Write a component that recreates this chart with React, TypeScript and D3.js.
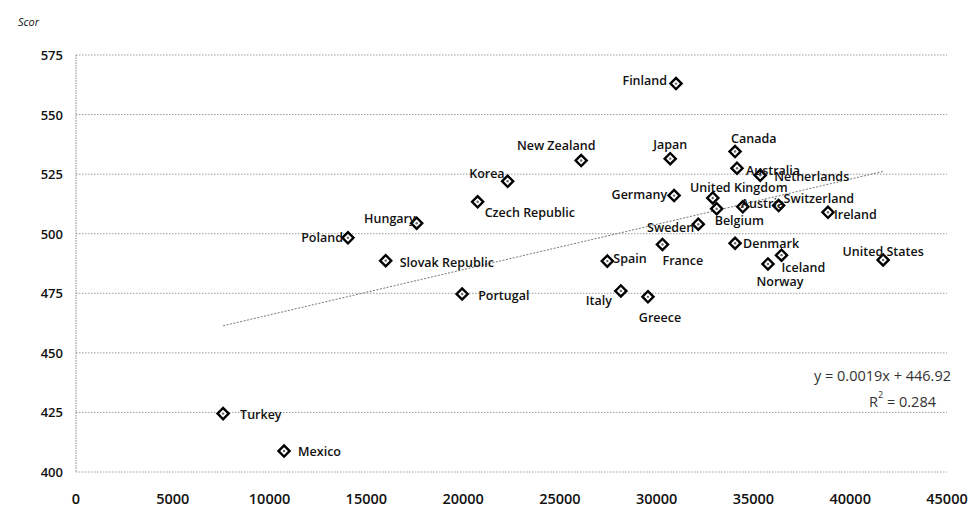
import React from "react";
import * as d3 from "d3";

const countries = ["Finland","Japan","Canada","Australia","Netherlands","Germany","United Kingdom","Belgium","Austria","Switzerland","Ireland","Sweden","Denmark","France","Spain","Iceland","Norway","United States","Italy","Greece","New Zealand","Korea","Czech Republic","Hungary","Poland","Slovak Republic","Portugal","Turkey","Mexico"];
const gdp = [31000,30700,34050,34150,35350,30900,32900,33100,34450,36300,38850,32150,34050,30300,27450,36450,35750,41700,28150,29550,26100,22300,20750,17600,14050,16000,19950,7600,10750];
const scores = [563,531.5,534.5,527.5,524.5,516,515,510.5,511.3,511.8,509,504,496,495.5,488.5,491,487.3,489,476,473.5,530.7,522,513.4,504.4,498.3,488.7,474.7,424.5,408.8];

const xTicks = [0,5000,10000,15000,20000,25000,30000,35000,40000,45000];
const yTicks = [400,425,450,475,500,525,550,575];
const slope = 0.0019;
const intercept = 446.92;
const equationText = "y = 0.0019x + 446.92";
const r2Value = "0.284";
const yAxisTitle = "Scor";

// label placement: [dx, dy, anchor]
const labelPos: Record<string, [number, number, string]> = {
  "Finland": [-9, -3, "end"],
  "Japan": [0, -14, "middle"],
  "Canada": [-4, -13, "start"],
  "Australia": [9, 2, "start"],
  "Netherlands": [14, 1, "start"],
  "Germany": [-7, -1, "end"],
  "United Kingdom": [26, -10, "middle"],
  "Belgium": [-2, 12, "start"],
  "Austria": [-2, -3, "start"],
  "Switzerland": [5, -7, "start"],
  "Ireland": [6, 2, "start"],
  "Sweden": [-4, 3, "end"],
  "Denmark": [8, 0, "start"],
  "France": [0, 16, "start"],
  "Spain": [6, -3, "start"],
  "Iceland": [0, 12, "start"],
  "Norway": [12, 18, "middle"],
  "United States": [0, -8, "middle"],
  "Italy": [-9, 10, "end"],
  "Greece": [12, 21, "middle"],
  "New Zealand": [-25, -15, "middle"],
  "Korea": [-3, -8, "end"],
  "Czech Republic": [7, 11, "start"],
  "Hungary": [-1, -5, "end"],
  "Poland": [-5, 0, "end"],
  "Slovak Republic": [14, 2, "start"],
  "Portugal": [16, 1, "start"],
  "Turkey": [17, 1, "start"],
  "Mexico": [14, 0, "start"],
};

export default function App() {
  const W = 969, H = 508;
  const x = d3.scaleLinear().domain([0, 45000]).range([76, 947]);
  const y = d3.scaleLinear().domain([400, 575]).range([472, 55]);
  const diamond = d3.symbol().type(d3.symbolSquare).size(62)() as string;
  const xMin = d3.min(gdp) as number;
  const xMax = d3.max(gdp) as number;
  const trend = d3.line<number>().x((v) => x(v)).y((v) => y(slope * v + intercept));
  const font = "'Open Sans', 'Liberation Sans', sans-serif";

  return (
    <svg width={W} height={H} style={{ position: "absolute", left: 0, top: 0, background: "#fff" }} fontFamily={font}>
      <rect width={W} height={H} fill="#fff" />
      {yTicks.map((t) => (
        <line key={"g" + t} x1={x(0)} x2={x(45000)} y1={y(t)} y2={y(t)} stroke="#9a9a9a" strokeWidth={1} strokeDasharray="1.5,1.5" />
      ))}
      <line x1={x(0)} x2={x(0)} y1={y(575)} y2={y(400)} stroke="#8a8a8a" strokeWidth={1} strokeDasharray="1.5,1" />
      {yTicks.map((t) => (
        <text key={"yl" + t} x={63} y={y(t)} textAnchor="end" dominantBaseline="central" fontSize={13} fontWeight={600} fill="#111">{t}</text>
      ))}
      {xTicks.map((t) => (
        <text key={"xl" + t} x={x(t)} y={498} textAnchor="middle" dominantBaseline="central" fontSize={14.5} fontWeight={600} fill="#111">{t}</text>
      ))}
      <text x={18} y={21} fontSize={11} fontStyle="italic" fill="#111" dominantBaseline="central">{yAxisTitle}</text>
      <path d={trend([xMin, xMax]) as string} fill="none" stroke="#777" strokeWidth={1} strokeDasharray="2,1.5" />
      {countries.map((c, i) => (
        <g key={c} transform={`translate(${x(gdp[i])},${y(scores[i])})`}>
          <path d={diamond} transform="rotate(45)" fill="#fff" stroke="#000" strokeWidth={2.4} />
          <circle r={1.2} fill="#666" />
        </g>
      ))}
      {countries.map((c, i) => {
        const [dx, dy, anchor] = labelPos[c];
        return (
          <text key={"l" + c} x={x(gdp[i]) + dx} y={y(scores[i]) + dy} textAnchor={anchor} dominantBaseline="central" fontSize={12.5} fontWeight={600} fill="#111">{c}</text>
        );
      })}
      <text x={951} y={375} textAnchor="end" dominantBaseline="central" fontSize={14.5} fill="#333">{equationText}</text>
      <text x={936} y={401} textAnchor="end" dominantBaseline="central" fontSize={14.5} fill="#333">
        R<tspan baselineShift="super" fontSize={9}>2</tspan> = {r2Value}
      </text>
    </svg>
  );
}
